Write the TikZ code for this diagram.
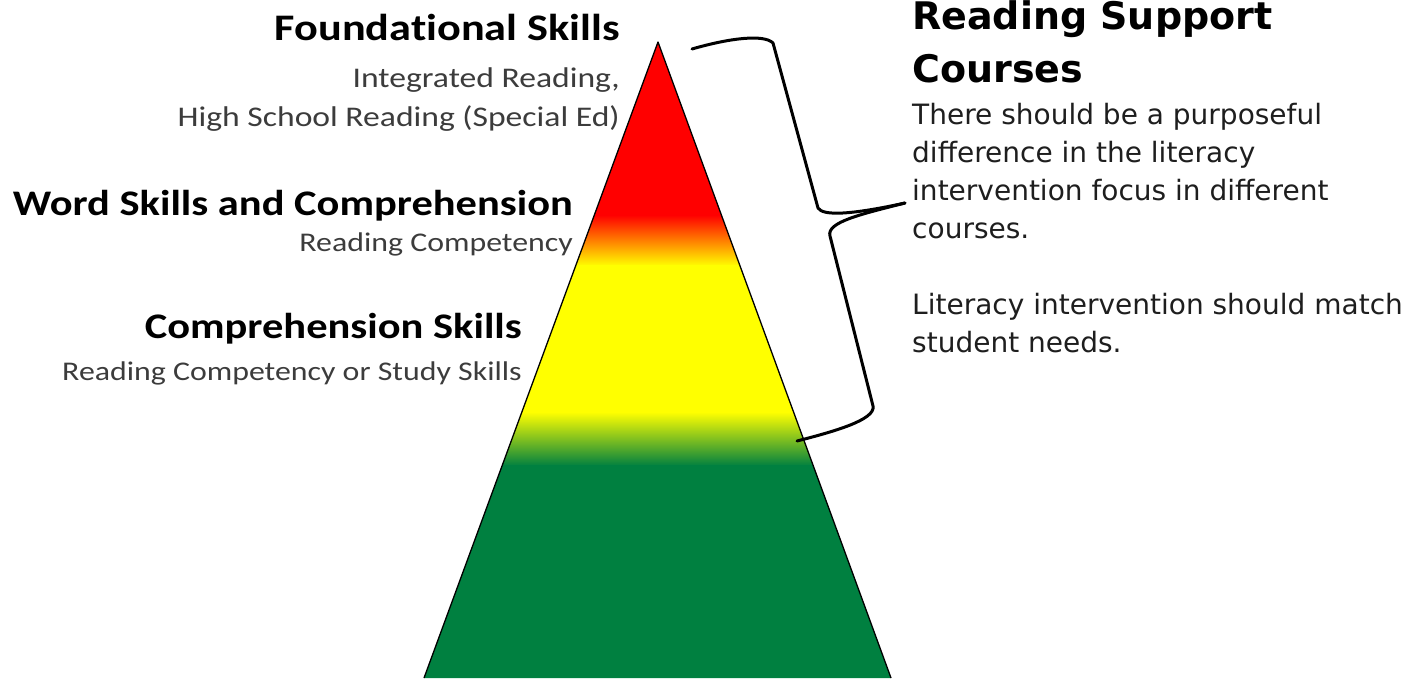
\documentclass[tikz,border=0pt]{standalone}
\usepackage{fontspec}
\setmainfont[FakeStretch=1.18, Ligatures=NoCommon]{Carlito}
\newfontfamily\notefont{DejaVu Sans}
\definecolor{pred}{RGB}{255,0,0}
\definecolor{pyellow}{RGB}{255,255,0}
\definecolor{polive}{RGB}{160,168,40}
\definecolor{pgreen}{RGB}{0,128,64}
\definecolor{subgray}{RGB}{60,60,60}
\definecolor{notegray}{RGB}{30,30,30}
\tikzset{
  level/.style={anchor=base east, inner sep=0pt, font=\bfseries\fontsize{36}{40}\selectfont},
  course/.style={anchor=base east, inner sep=0pt, text=subgray, font=\fontsize{27}{32}\selectfont},
  notehead/.style={anchor=base west, inner sep=0pt, font=\notefont\bfseries\fontsize{38}{44}\selectfont},
  noteline/.style={anchor=base west, inner sep=0pt, text=notegray, font=\notefont\fontsize{28}{34}\selectfont},
  brace/.style={line width=3pt, line join=round, line cap=round}
}
\begin{document}
\begin{tikzpicture}[x=1pt, y=-1pt]
    \useasboundingbox (0,0) rectangle (1420,678);

    % Pyramid
    \coordinate (apex) at (658,42);
    \coordinate (baseL) at (424,678);
    \coordinate (baseR) at (891,678);
    \begin{scope}
      \clip (apex) -- (baseL) -- (baseR) -- cycle;
      \fill[pred] (400,30) rectangle (900,216);
      \shade[top color=pred, bottom color=pyellow] (400,215) rectangle (900,266);
      \fill[pyellow] (400,265) rectangle (900,413);
      \shade[top color=pyellow, middle color=polive, bottom color=pgreen] (400,412) rectangle (900,466);
      \fill[pgreen] (400,465) rectangle (900,690);
    \end{scope}
    \draw[line width=1.3pt, line join=round] (baseL) -- (apex) -- (baseR);

    % Levels
    \node[level, font=\bfseries\fontsize{37.5}{40}\selectfont] (found) at (620,40) {Foundational Skills};
    \node[course, font=\fontsize{28.5}{32}\selectfont] (found1) at (620,87) {Integrated Reading,};
    \node[course, font=\fontsize{28.5}{32}\selectfont] (found2) at (620,126) {High School Reading (Special Ed)};
    \node[level] (word) at (573,215) {Word Skills and Comprehension};
    \node[course] (word1) at (573,251) {Reading Competency};
    \node[level] (comp) at (522,338) {Comprehension Skills};
    \node[course] (comp1) at (522,380) {Reading Competency or Study Skills};

    % Brace
    \coordinate (btop) at (692,49);
    \coordinate (btip) at (905,203);
    \coordinate (bbot) at (797,441);
    \draw[brace] (btop) .. controls (730,38) and (764,34) .. (773,43) -- (818,208)
      .. controls (823,216) and (850,215) .. (btip);
    \draw[brace] (btip) .. controls (862,214) and (826,222) .. (830,236) -- (873,406)
      .. controls (876,420) and (832,432) .. (bbot);

    % Notes
    \node[notehead] (head1) at (912,29) {Reading Support};
    \node[notehead] (head2) at (912,82) {Courses};
    \node[noteline] (n1) at (912,124) {There should be a purposeful};
    \node[noteline] (n2) at (912,162) {difference in the literacy};
    \node[noteline] (n3) at (912,200) {intervention focus in different};
    \node[noteline] (n4) at (912,238) {courses.};
    \node[noteline] (n5) at (912,314) {Literacy intervention should match};
    \node[noteline] (n6) at (912,352) {student needs.};
\end{tikzpicture}
\end{document}
